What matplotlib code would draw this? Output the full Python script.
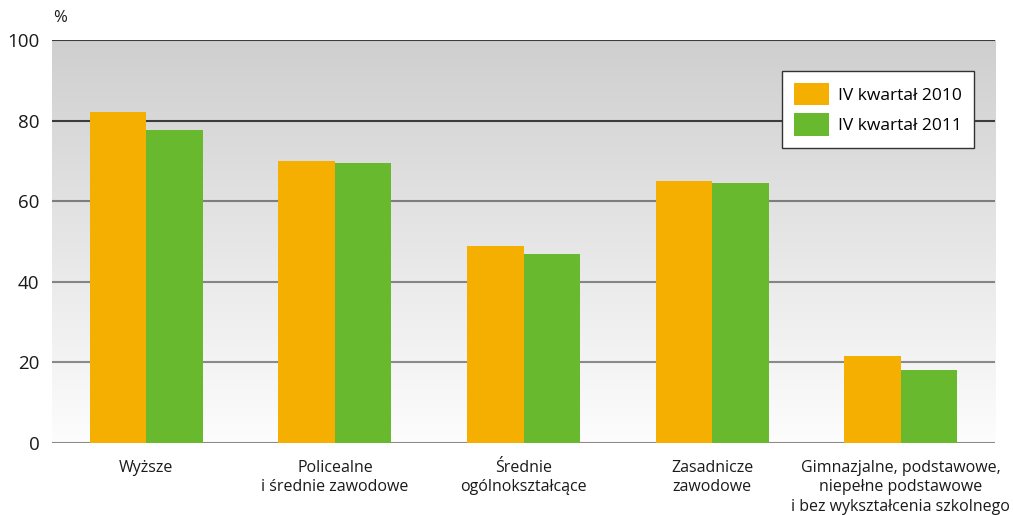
import numpy as np
import matplotlib.pyplot as plt
from matplotlib.colors import LinearSegmentedColormap

plt.rcParams['font.family'] = ['Open Sans', 'DejaVu Sans']

# Data
categories = ['Wyższe',
              'Policealne\ni średnie zawodowe',
              'Średnie\nogólnokształcące',
              'Zasadnicze\nzawodowe',
              'Gimnazjalne, podstawowe,\nniepełne podstawowe\ni bez wykształcenia szkolnego']
q4_2010 = [82.1, 69.9, 49.0, 64.9, 21.7]
q4_2011 = [77.6, 69.4, 46.8, 64.4, 18.2]
series_labels = ['IV kwartał 2010', 'IV kwartał 2011']
yticks = [0, 20, 40, 60, 80, 100]

orange = '#F5AF00'
green = '#68B92E'

fig = plt.figure(figsize=(10.13, 5.15), dpi=100)
ax = fig.add_axes([52/1013, 1 - 443/515, 943/1013, 403/515])

x_pos = np.arange(len(categories)) + 0.5
width = 0.30

# gradient background
cmap = LinearSegmentedColormap.from_list('bg', ['#fdfdfd', '#cfcfcf'])
grad = np.linspace(0, 1, 256).reshape(-1, 1)
ax.imshow(grad, cmap=cmap, origin='lower', aspect='auto',
          extent=[0, 5, 0, 100], zorder=0)

grid_colors = {0: '#8a8a8a', 20: '#8a8a8a', 40: '#858585', 60: '#7e7e7e',
               80: '#3c3c3c', 100: '#3c3c3c'}
for yv in yticks:
    ax.axhline(yv, color=grid_colors[yv], lw=1.5, zorder=1)

ax.bar(x_pos - width/2, q4_2010, width, color=orange, label=series_labels[0], zorder=2)
ax.bar(x_pos + width/2, q4_2011, width, color=green, label=series_labels[1], zorder=2)

ax.set_xlim(0, 5)
ax.set_ylim(0, 100)
ax.set_yticks(yticks)
ax.set_yticklabels([str(v) for v in yticks], fontsize=13.5, color='#1a1a1a')
ax.set_xticks(x_pos)
ax.set_xticklabels(categories, fontsize=11.5, color='#1a1a1a', linespacing=1.3)
ax.tick_params(length=0, axis='y', pad=9)
ax.tick_params(length=0, axis='x', pad=12)
for s in ax.spines.values():
    s.set_visible(False)

fig.text(53/1013, 1 - 18/515, '%', fontsize=12, ha='left', va='center', color='#1a1a1a')

leg = ax.legend(loc='upper left', bbox_to_anchor=((782-52)/943, 1 - (71-40)/403),
                fontsize=12.5, frameon=True, fancybox=False, edgecolor='#333333',
                handlelength=2.0, handleheight=1.6, borderpad=0.7, labelspacing=0.45,
                handletextpad=0.5, borderaxespad=0)
leg.get_frame().set_linewidth(1.0)
leg.get_frame().set_facecolor('white')
leg.get_frame().set_alpha(1)

plt.savefig('out.png', dpi=100)
